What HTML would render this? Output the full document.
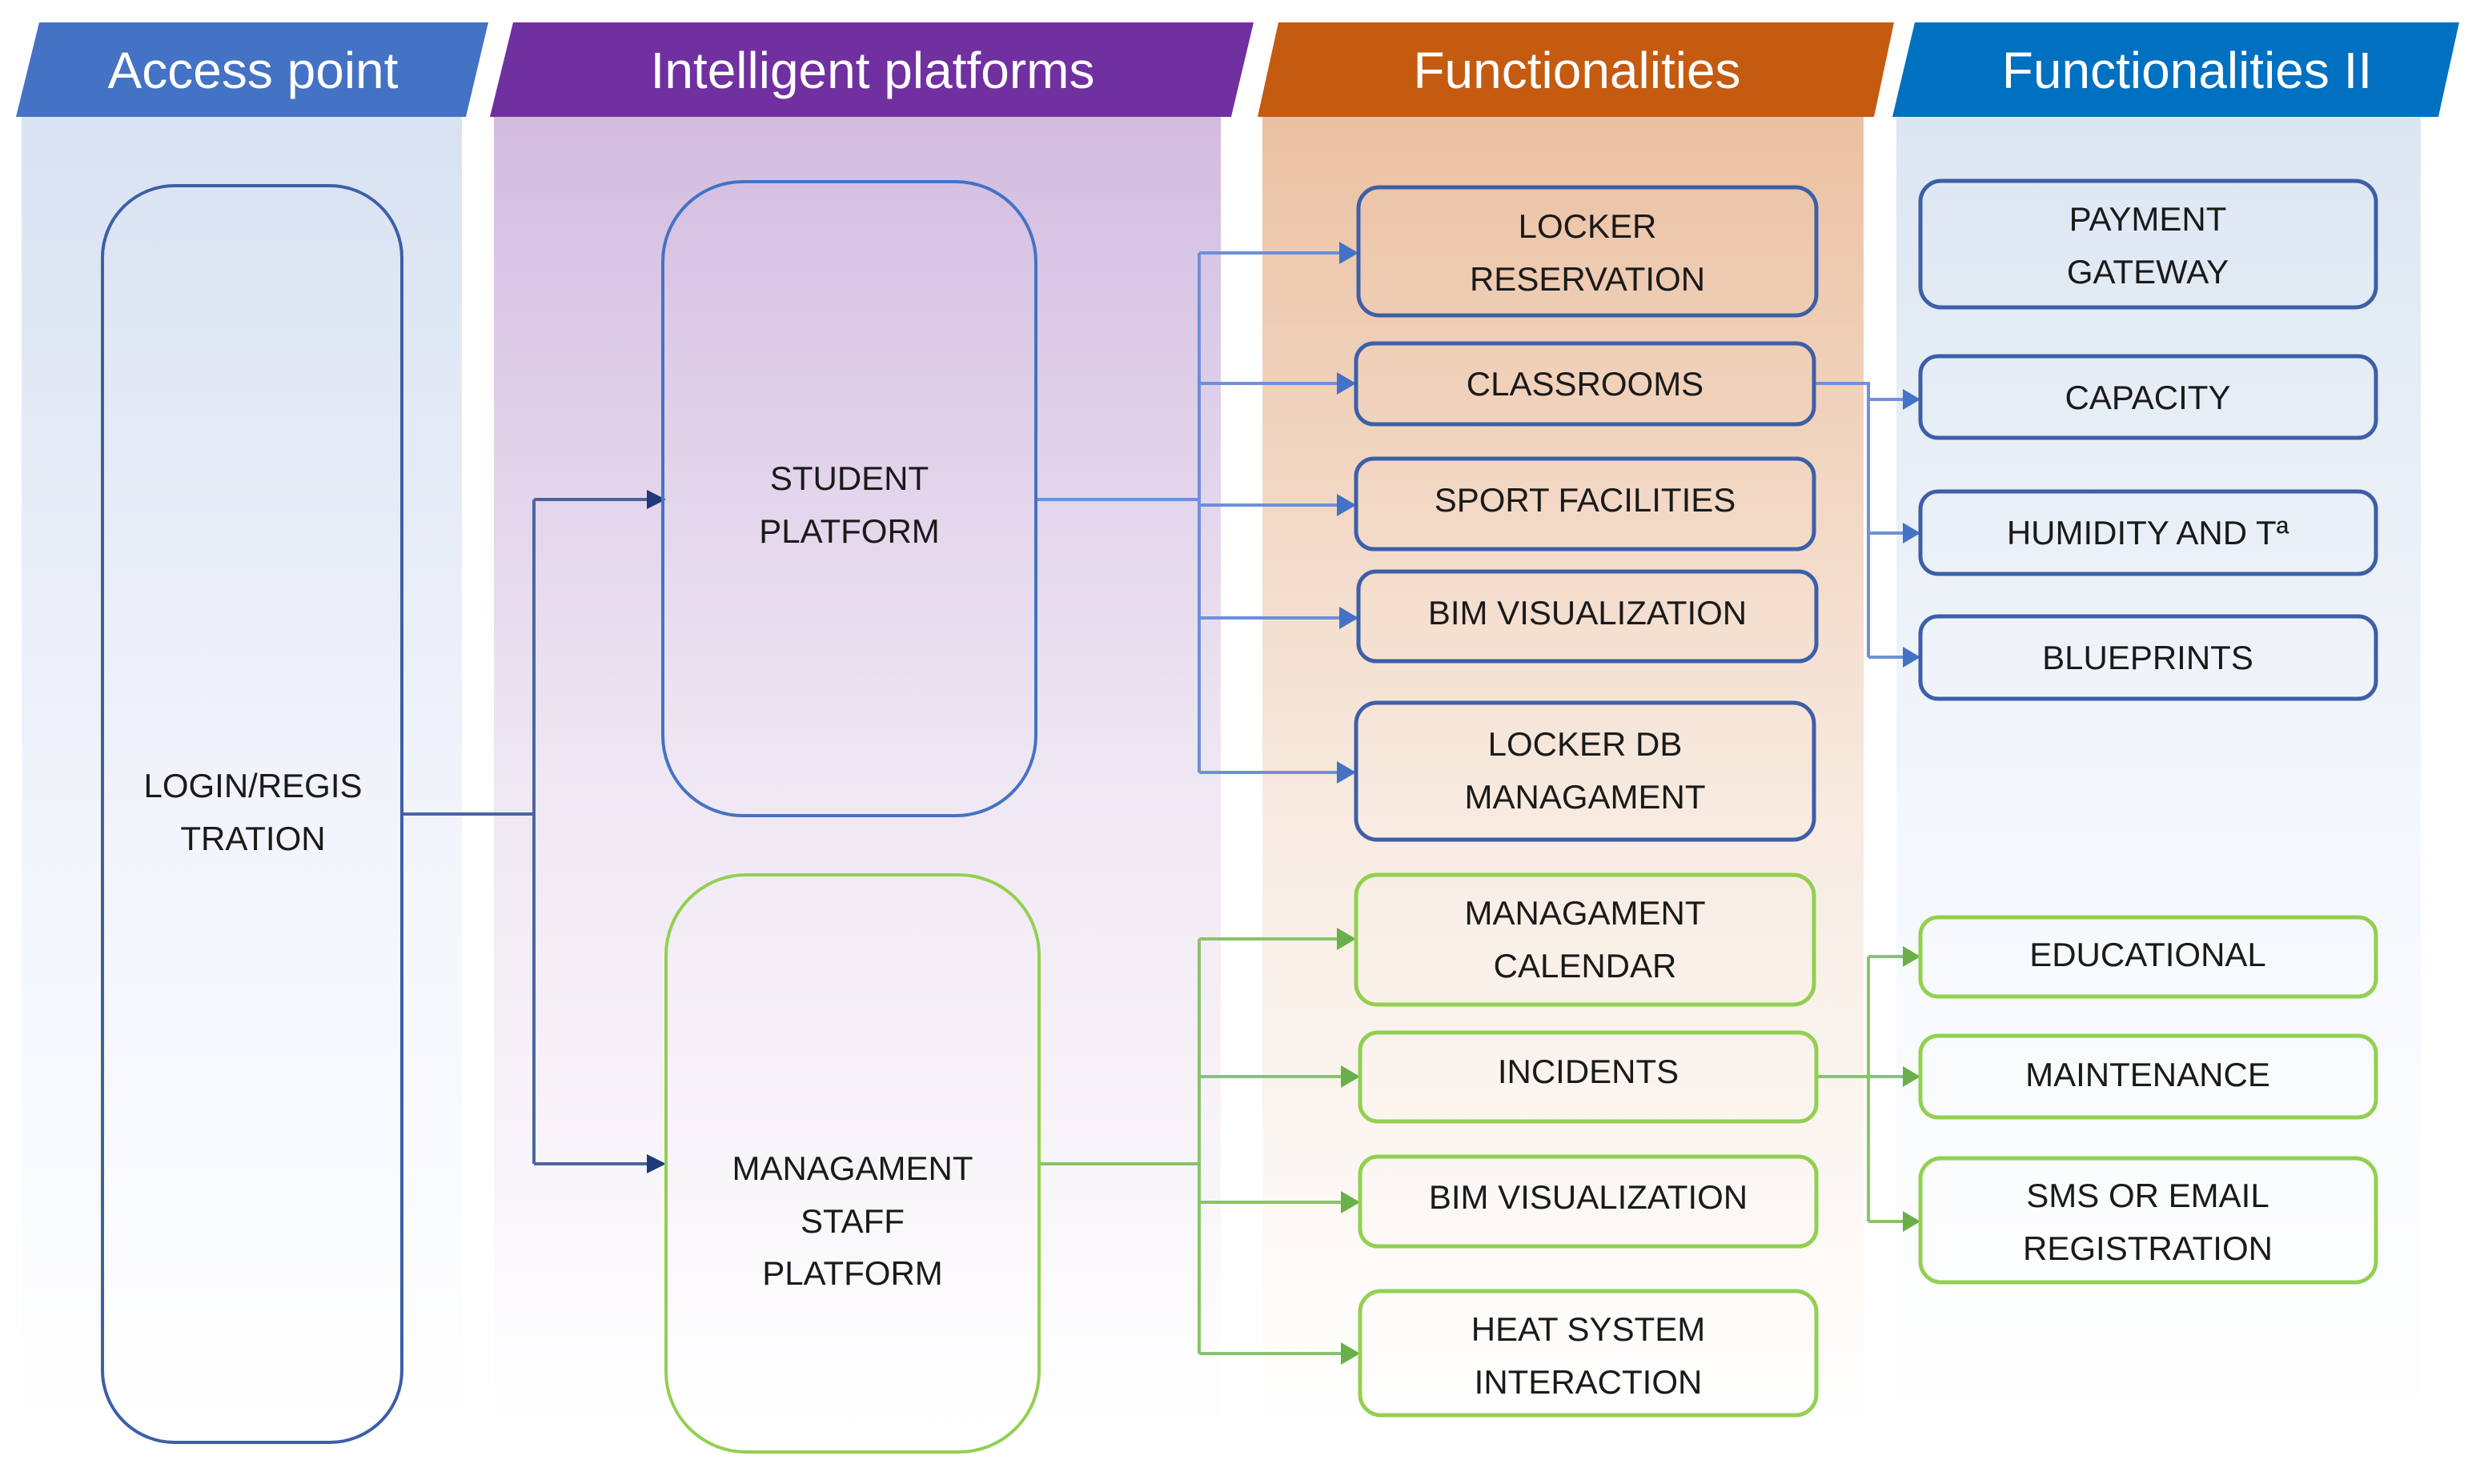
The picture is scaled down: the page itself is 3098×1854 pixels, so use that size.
<!DOCTYPE html>
<html><head><meta charset="utf-8"><style>
html,body{margin:0;padding:0;background:#fff;}
svg{display:block;}
text{font-family:"Liberation Sans",sans-serif;}
.t{font-size:42px;fill:#1a1a1a;text-anchor:middle;}
.h{font-size:64px;fill:#fff;text-anchor:middle;}
</style></head><body>
<svg width="3098" height="1854" viewBox="0 0 3098 1854" xmlns="http://www.w3.org/2000/svg">
<defs>
<linearGradient id="gA" x1="0" y1="0" x2="0" y2="1"><stop offset="0" stop-color="#d9e2f2"/><stop offset="0.55" stop-color="#f2f5fb"/><stop offset="1" stop-color="#ffffff"/></linearGradient>
<linearGradient id="gB" x1="0" y1="0" x2="0" y2="1"><stop offset="0" stop-color="#d3bce0"/><stop offset="0.5" stop-color="#efe7f3"/><stop offset="1" stop-color="#ffffff"/></linearGradient>
<linearGradient id="gC" x1="0" y1="0" x2="0" y2="1"><stop offset="0" stop-color="#ebc1a2"/><stop offset="0.55" stop-color="#f8ece3"/><stop offset="1" stop-color="#ffffff"/></linearGradient>
<linearGradient id="gD" x1="0" y1="0" x2="0" y2="1"><stop offset="0" stop-color="#dce6f2"/><stop offset="0.55" stop-color="#f5f8fc"/><stop offset="1" stop-color="#ffffff"/></linearGradient>
</defs>
<!-- column backgrounds -->
<rect x="27" y="146" width="550" height="1640" fill="url(#gA)"/>
<rect x="617" y="146" width="908" height="1640" fill="url(#gB)"/>
<rect x="1577" y="146" width="751" height="1640" fill="url(#gC)"/>
<rect x="2369" y="146" width="655" height="1640" fill="url(#gD)"/>
<!-- headers -->
<polygon points="49,28 610,28 582,146 20,146" fill="#4472c4"/>
<polygon points="641,28 1566,28 1538,146 612,146" fill="#7030a0"/>
<polygon points="1597,28 2366,28 2341,146 1571,146" fill="#c55a11"/>
<polygon points="2392,28 3072,28 3046,146 2364,146" fill="#0070c0"/>
<text class="h" x="316" y="110">Access point</text>
<text class="h" x="1090" y="110">Intelligent platforms</text>
<text class="h" x="1970" y="110">Functionalities</text>
<text class="h" x="2732" y="110">Functionalities II</text>

<!-- connectors: login -->
<g fill="none" stroke="#4a65a0" stroke-width="4">
<polyline points="502,1017 667,1017"/>
<polyline points="667,624 667,1454"/>
<polyline points="667,624 810,624"/>
<polyline points="667,1454 815,1454"/>
</g>
<polygon points="832,624 808,612 808,636" fill="#1f3a7a"/>
<polygon points="832,1454 808,1442 808,1466" fill="#1f3a7a"/>

<!-- student connectors -->
<g fill="none" stroke="#6d90d8" stroke-width="4">
<polyline points="1294,624 1498,624"/>
<polyline points="1498,316 1498,965"/>
<polyline points="1498,316 1675,316"/>
<polyline points="1498,479 1672,479"/>
<polyline points="1498,631 1672,631"/>
<polyline points="1498,772 1675,772"/>
<polyline points="1498,965 1672,965"/>
<polyline points="2266,479 2334,479 2334,821"/>
<polyline points="2334,499 2378,499"/>
<polyline points="2334,666 2378,666"/>
<polyline points="2334,821 2378,821"/>
</g>
<g fill="#4472c4">
<polygon points="1697,316 1673,302 1673,330"/>
<polygon points="1694,479 1670,465 1670,493"/>
<polygon points="1694,631 1670,617 1670,645"/>
<polygon points="1697,772 1673,758 1673,786"/>
<polygon points="1694,965 1670,951 1670,979"/>
<polygon points="2399,499 2377,486 2377,512"/>
<polygon points="2399,666 2377,653 2377,679"/>
<polygon points="2399,821 2377,808 2377,834"/>
</g>

<!-- green connectors -->
<g fill="none" stroke="#88c46a" stroke-width="4">
<polyline points="1298,1454 1498,1454"/>
<polyline points="1498,1173 1498,1691"/>
<polyline points="1498,1173 1672,1173"/>
<polyline points="1498,1345 1677,1345"/>
<polyline points="1498,1502 1677,1502"/>
<polyline points="1498,1691 1677,1691"/>
<polyline points="2269,1345 2378,1345"/>
<polyline points="2334,1195 2334,1526"/>
<polyline points="2334,1195 2378,1195"/>
<polyline points="2334,1526 2378,1526"/>
</g>
<g fill="#6ab04a">
<polygon points="1694,1173 1670,1159 1670,1187"/>
<polygon points="1699,1345 1675,1331 1675,1359"/>
<polygon points="1699,1502 1675,1488 1675,1516"/>
<polygon points="1699,1691 1675,1677 1675,1705"/>
<polygon points="2399,1195 2377,1182 2377,1208"/>
<polygon points="2399,1345 2377,1332 2377,1358"/>
<polygon points="2399,1526 2377,1513 2377,1539"/>
</g>

<!-- big boxes -->
<rect x="128" y="232" width="374" height="1570" rx="90" fill="none" stroke="#3d5fa8" stroke-width="4"/>
<text class="t" x="316" y="996">LOGIN/REGIS</text>
<text class="t" x="316" y="1062">TRATION</text>
<rect x="828" y="227" width="466" height="792" rx="100" fill="none" stroke="#4472c4" stroke-width="4"/>
<text class="t" x="1061" y="612">STUDENT</text>
<text class="t" x="1061" y="678">PLATFORM</text>
<rect x="832" y="1093" width="466" height="721" rx="100" fill="none" stroke="#92d050" stroke-width="4"/>
<text class="t" x="1065" y="1474">MANAGAMENT</text>
<text class="t" x="1065" y="1540">STAFF</text>
<text class="t" x="1065" y="1605">PLATFORM</text>

<!-- func blue boxes -->
<g fill="none" stroke="#3d5fa8" stroke-width="5">
<rect x="1697" y="234" width="572" height="160" rx="26"/>
<rect x="1694" y="429" width="572" height="101" rx="22"/>
<rect x="1694" y="573" width="572" height="113" rx="22"/>
<rect x="1697" y="714" width="572" height="112" rx="22"/>
<rect x="1694" y="878" width="572" height="171" rx="26"/>
<rect x="2399" y="226" width="569" height="158" rx="26"/>
<rect x="2399" y="445" width="569" height="102" rx="22"/>
<rect x="2399" y="614" width="569" height="103" rx="22"/>
<rect x="2399" y="770" width="569" height="103" rx="22"/>
</g>
<text class="t" x="1983" y="297">LOCKER</text>
<text class="t" x="1983" y="363">RESERVATION</text>
<text class="t" x="1980" y="494">CLASSROOMS</text>
<text class="t" x="1980" y="639">SPORT FACILITIES</text>
<text class="t" x="1983" y="780">BIM VISUALIZATION</text>
<text class="t" x="1980" y="944">LOCKER DB</text>
<text class="t" x="1980" y="1010">MANAGAMENT</text>
<text class="t" x="2683" y="288">PAYMENT</text>
<text class="t" x="2683" y="354">GATEWAY</text>
<text class="t" x="2683" y="511">CAPACITY</text>
<text class="t" x="2683" y="680">HUMIDITY AND Tª</text>
<text class="t" x="2683" y="836">BLUEPRINTS</text>

<!-- func green boxes -->
<g fill="none" stroke="#92d050" stroke-width="5">
<rect x="1694" y="1093" width="572" height="162" rx="26"/>
<rect x="1699" y="1290" width="570" height="111" rx="22"/>
<rect x="1699" y="1445" width="570" height="112" rx="22"/>
<rect x="1699" y="1613" width="570" height="155" rx="26"/>
<rect x="2399" y="1146" width="569" height="99" rx="22"/>
<rect x="2399" y="1294" width="569" height="102" rx="22"/>
<rect x="2399" y="1447" width="569" height="155" rx="26"/>
</g>
<text class="t" x="1980" y="1155">MANAGAMENT</text>
<text class="t" x="1980" y="1221">CALENDAR</text>
<text class="t" x="1984" y="1353">INCIDENTS</text>
<text class="t" x="1984" y="1510">BIM VISUALIZATION</text>
<text class="t" x="1984" y="1675">HEAT SYSTEM</text>
<text class="t" x="1984" y="1741">INTERACTION</text>
<text class="t" x="2683" y="1207">EDUCATIONAL</text>
<text class="t" x="2683" y="1357">MAINTENANCE</text>
<text class="t" x="2683" y="1508">SMS OR EMAIL</text>
<text class="t" x="2683" y="1574">REGISTRATION</text>
</svg>
</body></html>
